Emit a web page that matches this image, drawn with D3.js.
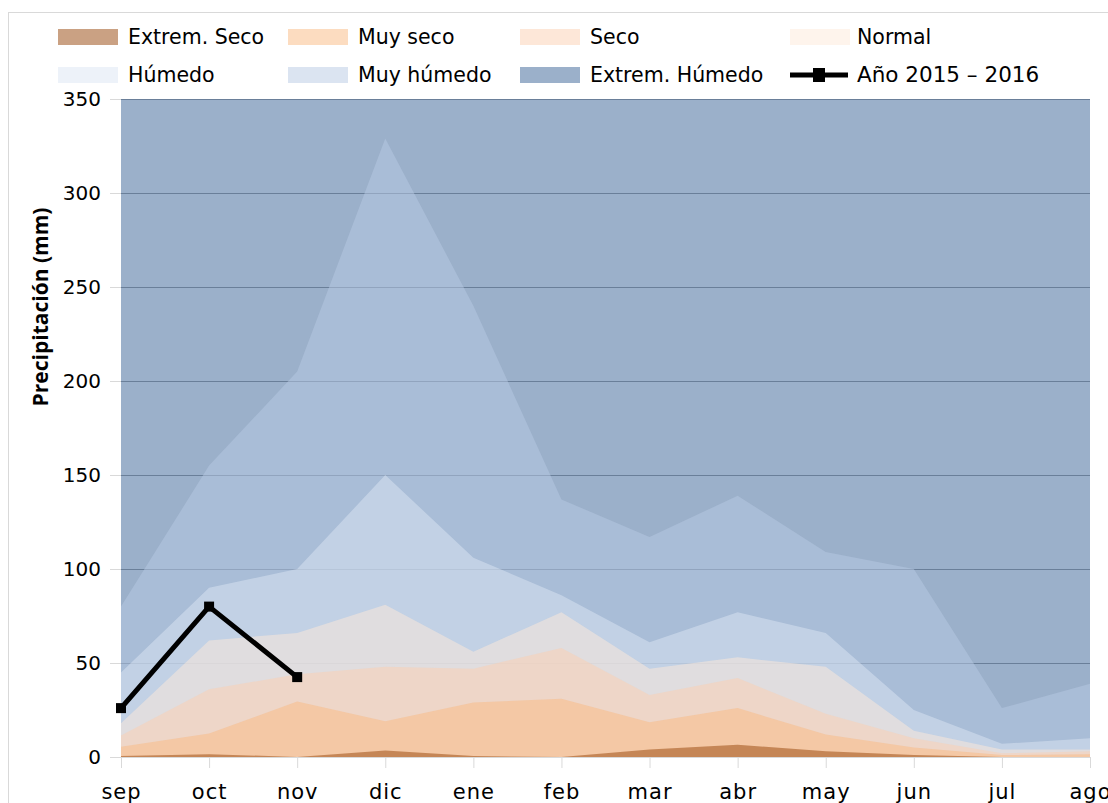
<!DOCTYPE html>
<html>
<head>
<meta charset="utf-8">
<script src="https://cdn.jsdelivr.net/npm/d3@7"></script>
<style>
  html, body { margin: 0; padding: 0; background: #fff; }
  svg { display: block; }
</style>
</head>
<body>
<svg id="chart" width="1108" height="803"></svg>
<script>
// ---- data ----
const months = ["sep","oct","nov","dic","ene","feb","mar","abr","may","jun","jul","ago"];
const extremHumedo = [350,350,350,350,350,350,350,350,350,350,350,350];
const muyHumedo    = [80,155,205,329,240,137,117,139,109,100,26,39];
const humedo       = [45,90,100,150,106,86,61,77,66,25,7,10];
const normal       = [18,62,66,81,56,77,47,53,48,14,4,4];
const seco         = [11.5,36,44,48,47,58,33,42,23,10,2,3];
const muySeco      = [5.5,12.5,29.5,19,29,31,18.5,26,12,5,1,1.5];
const extremSeco   = [0.5,1.5,0,3.5,0.5,0,4,6.5,3,1,0,0];
const anio2015     = [26,80,42.5];
const yTicks = [0,50,100,150,200,250,300,350];

// series (draw order: largest first)
const layers = [
  {name:"Extrem. Húmedo", values: extremHumedo, color:"#587ba7", op:0.6},
  {name:"Muy húmedo",     values: muyHumedo,    color:"#b8cae3", op:0.5},
  {name:"Húmedo",         values: humedo,       color:"#dce5f3", op:0.5},
  {name:"Normal",         values: normal,       color:"#fde9d9", op:0.5},
  {name:"Seco",           values: seco,         color:"#fbcfb1", op:0.5},
  {name:"Muy seco",       values: muySeco,      color:"#f9b981", op:0.5},
  {name:"Extrem. Seco",   values: extremSeco,   color:"#964408", op:0.5}
];

const svg = d3.select("#chart");
const font = "'DejaVu Sans', sans-serif";

// chart border
svg.append("rect").attr("x",8.5).attr("y",12.5).attr("width",1200).attr("height",900)
  .attr("fill","none").attr("stroke","#d9d9d9").attr("stroke-width",1);

const x = d3.scalePoint().domain(months).range([121, 1090]);
const y = d3.scaleLinear().domain([0,350]).range([757, 99]);

// gridlines (under areas)
svg.append("g").selectAll("line").data(yTicks.filter(d=>d>0)).join("line")
  .attr("x1",121).attr("x2",1090)
  .attr("y1",d=>Math.round(y(d))+0.5).attr("y2",d=>Math.round(y(d))+0.5)
  .attr("stroke","#868686").attr("stroke-width",1);

// areas
const area = d3.area().x((d,i)=>x(months[i])).y0(y(0)).y1(d=>y(d));
svg.append("g").selectAll("path").data(layers).join("path")
  .attr("d", d=>area(d.values))
  .attr("fill", d=>d.color).attr("fill-opacity", d=>d.op);

// y axis
const yAxis = d3.axisLeft(y).tickValues(yTicks).tickSize(11).tickPadding(9);
const gy = svg.append("g").attr("transform","translate(121,0)").call(yAxis);
gy.select(".domain").remove();
gy.selectAll(".tick line").attr("stroke","#d9d9d9");
gy.selectAll(".tick text").attr("font-family",font).attr("font-size",20).attr("fill","#000");

// x axis
const xAxis = d3.axisBottom(x).tickSize(11).tickPadding(16);
const gx = svg.append("g").attr("transform","translate(0,757)").call(xAxis);
gx.select(".domain").attr("stroke","#d9d9d9").attr("d","M121,0.5H1090");
gx.selectAll(".tick line").attr("stroke","#d9d9d9");
gx.selectAll(".tick text").attr("font-family",font).attr("font-size",21).attr("fill","#000")
  .attr("letter-spacing","1px");

// line series
const line = d3.line().x((d,i)=>x(months[i])).y(d=>y(d));
svg.append("path").attr("d", line(anio2015)).attr("fill","none")
  .attr("stroke","#000").attr("stroke-width",5).attr("stroke-linejoin","miter");
svg.append("g").selectAll("rect").data(anio2015).join("rect")
  .attr("x",(d,i)=>x(months[i])-5).attr("y",d=>y(d)-5)
  .attr("width",10).attr("height",10).attr("fill","#000");

// y title
svg.append("text").attr("transform","translate(48,307) rotate(-90)")
  .attr("text-anchor","middle").attr("font-family","'Open Sans', sans-serif")
  .attr("font-weight","bold").attr("font-size",21).attr("fill","#000")
  .text("Precipitación (mm)");

// legend
const legendOrder = ["Extrem. Seco","Muy seco","Seco","Normal","Húmedo","Muy húmedo","Extrem. Húmedo"];
const colX = [58, 288, 520, 790];
const rowY = [37, 75];
const lg = svg.append("g");
legendOrder.forEach((name,i)=>{
  const L = layers.find(l=>l.name===name);
  const cx = colX[i%4], cy = rowY[Math.floor(i/4)];
  lg.append("rect").attr("x",cx).attr("y",cy-8).attr("width",60).attr("height",16)
    .attr("fill","#fff");
  lg.append("rect").attr("x",cx).attr("y",cy-8).attr("width",60).attr("height",16)
    .attr("fill",L.color).attr("fill-opacity",L.op);
  lg.append("text").attr("x",cx+(i%4===3?67:70)).attr("y",cy+7).attr("font-family",font)
    .attr("font-size",20.5).attr("fill","#000").text(name);
});
// line legend
{
  const cx = colX[3], cy = rowY[1];
  lg.append("line").attr("x1",cx).attr("x2",cx+58).attr("y1",cy).attr("y2",cy)
    .attr("stroke","#000").attr("stroke-width",5);
  lg.append("rect").attr("x",cx+23).attr("y",cy-7).attr("width",12).attr("height",14).attr("fill","#000");
  lg.append("text").attr("x",cx+67).attr("y",cy+7).attr("font-family",font)
    .attr("font-size",21.5).attr("fill","#000").text("Año 2015 – 2016");
}
</script>
</body>
</html>
